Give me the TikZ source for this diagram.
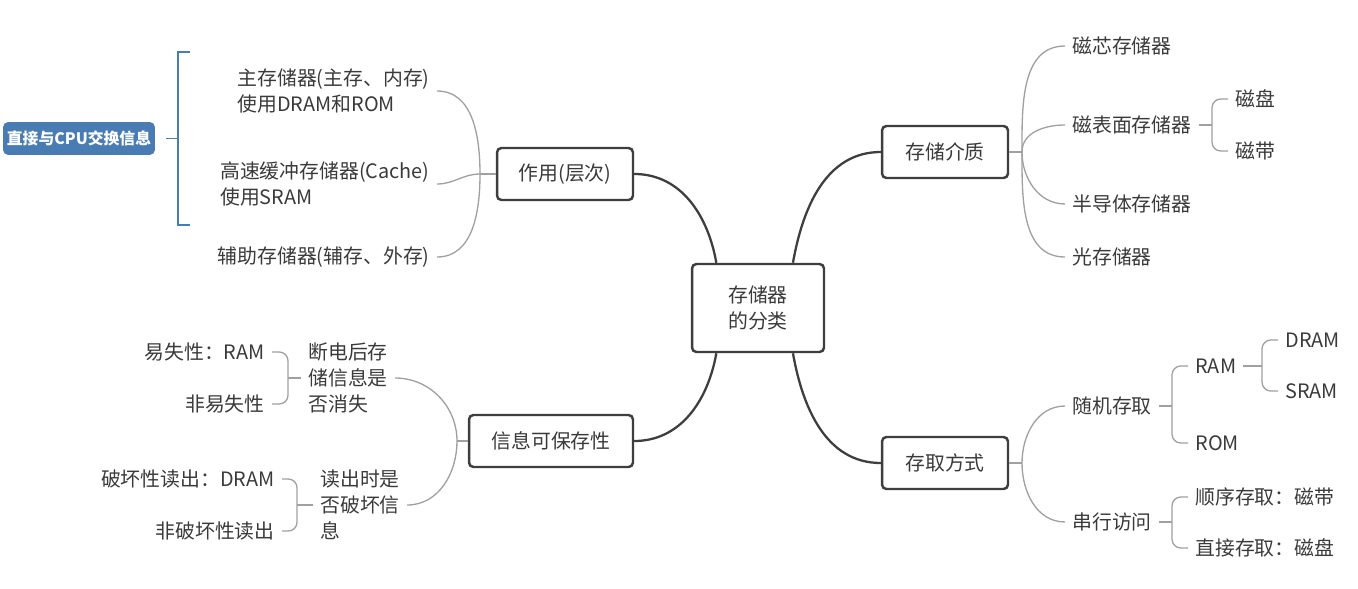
\documentclass[tikz,border=0pt]{standalone}
\usepackage{fontspec}
\setmainfont{Noto Sans CJK SC}
\usepackage{tikz}
\usetikzlibrary{positioning, calc}
\definecolor{InkGray}{RGB}{58,58,58}
\definecolor{EdgeGray}{RGB}{62,62,62}
\definecolor{TwigGray}{RGB}{160,160,160}
\definecolor{TagBlue}{RGB}{74,124,180}

\begin{document}
\begin{tikzpicture}[x=0.02cm, y=0.02cm,
	font=\fontsize{11.3pt}{14.7pt}\selectfont, text=InkGray,
	hub/.style={draw=EdgeGray, line width=1.4pt, rounded corners=2.5pt, fill=white,
		minimum height=1.04cm, inner sep=0pt, align=center},
	leaf/.style={inner sep=4pt, align=left},
	trunk/.style={draw=EdgeGray, line width=1.3pt},
	twig/.style={draw=TwigGray, line width=0.75pt},
	fork/.style={draw=TwigGray, line width=0.75pt, rounded corners=5pt},
	tag/.style={fill=TagBlue, text=white, rounded corners=3pt, minimum width=3.04cm,
		minimum height=0.66cm, inner sep=0pt, font=\fontsize{9pt}{11pt}\selectfont\bfseries},
	summ/.style={draw=TagBlue, line width=1.1pt}]

	\useasboundingbox (0,0) rectangle (1358,-588);

	% main boxes
	\node[hub, minimum width=2.64cm, minimum height=1.76cm] (root) at (758,-308) {存储器\\的分类};
	\node[hub, minimum width=2.72cm] (zy) at (565,-174) {作用(层次)};
	\node[hub, minimum width=3.28cm] (bc) at (551,-441) {信息可保存性};
	\node[hub, minimum width=2.52cm] (jz) at (945,-152) {存储介质};
	\node[hub, minimum width=2.52cm] (cq) at (945,-463) {存取方式};

	\coordinate (rtl) at ($(root.north west)!0.19!(root.north east)$);
	\coordinate (rtr) at ($(root.north west)!0.76!(root.north east)$);
	\coordinate (rbl) at ($(root.south west)!0.19!(root.south east)$);
	\coordinate (rbr) at ($(root.south west)!0.76!(root.south east)$);

	\draw[trunk] (zy.east) to[out=0, in=100] (rtl);
	\draw[trunk] (bc.east) to[out=0, in=-100] (rbl);
	\draw[trunk] (jz.west) to[out=180, in=80] (rtr);
	\draw[trunk] (cq.west) to[out=180, in=-80] (rbr);

	% 作用(层次)
	\node[leaf, anchor=east] (zc) at (437,-91) {主存储器(主存、内存)\\使用DRAM和ROM};
	\node[leaf, anchor=east] (hc) at (437,-184) {高速缓冲存储器(Cache)\\使用SRAM};
	\node[leaf, anchor=east] (fz) at (437,-257) {辅助存储器(辅存、外存)};
	\coordinate (jzy) at (480,-174);
	\draw[twig] (zy.west) -- (jzy);
	\draw[twig] (jzy) to[out=90, in=0] (zc.east);
	\draw[twig] (jzy) to[out=180, in=0] (hc.east);
	\draw[twig] (jzy) to[out=-90, in=0] (fz.east);

	% summary
	\node[tag, outer xsep=6pt] (cpu) at (79,-138.5) {直接与CPU交换信息};
	\coordinate (ks) at (178,-138.5);
	\coordinate (kt) at (190,-52);
	\coordinate (kb) at (190,-225);
	\draw[summ] (kt) -- (kt -| ks) -- (kb -| ks) -- (kb);
	\draw[summ] (ks) -- (cpu.east);

	% 信息可保存性
	\node[leaf, anchor=west] (dd) at (301,-378) {断电后存\\储信息是\\否消失};
	\node[leaf, anchor=west] (dc) at (313,-505) {读出时是\\否破坏信\\息};
	\coordinate (jbc) at (457,-441);
	\draw[twig] (bc.west) -- (jbc);
	\draw[twig] (jbc) to[out=90, in=0] (dd.east);
	\draw[twig] (jbc) to[out=-90, in=0] (dc.east);

	\node[leaf, anchor=east] (ysx) at (272,-352) {易失性：RAM};
	\node[leaf, anchor=east] (fys) at (272,-404) {非易失性};
	\coordinate (jdd) at (288,-378);
	\draw[twig] (dd.west) -- (jdd);
	\draw[fork] (jdd) |- (ysx.east);
	\draw[fork] (jdd) |- (fys.east);

	\node[leaf, anchor=east] (ph) at (282,-479) {破坏性读出：DRAM};
	\node[leaf, anchor=east] (fph) at (282,-531) {非破坏性读出};
	\coordinate (jdc) at (297,-505);
	\draw[twig] (dc.west) -- (jdc);
	\draw[fork] (jdc) |- (ph.east);
	\draw[fork] (jdc) |- (fph.east);

	% 存储介质
	\node[leaf, anchor=west] (cx) at (1065,-46) {磁芯存储器};
	\node[leaf, anchor=west] (cb) at (1065,-125) {磁表面存储器};
	\node[leaf, anchor=west] (bd) at (1065,-204) {半导体存储器};
	\node[leaf, anchor=west] (gc) at (1065,-257) {光存储器};
	\coordinate (jjz) at (1022,-152);
	\draw[twig] (jz.east) -- (jjz);
	\draw[twig] (jjz) to[out=90, in=180] (cx.west);
	\draw[twig] (jjz) to[out=90, in=180] (cb.west);
	\draw[twig] (jjz) to[out=-90, in=180] (bd.west);
	\draw[twig] (jjz) to[out=-90, in=180] (gc.west);

	\node[leaf, anchor=west] (cpan) at (1228,-99) {磁盘};
	\node[leaf, anchor=west] (cdai) at (1228,-151) {磁带};
	\coordinate (jcb) at (1212,-125);
	\draw[twig] (cb.east) -- (jcb);
	\draw[fork] (jcb) |- (cpan.west);
	\draw[fork] (jcb) |- (cdai.west);

	% 存取方式
	\node[leaf, anchor=west] (sj) at (1065,-406) {随机存取};
	\node[leaf, anchor=west] (cxf) at (1065,-522) {串行访问};
	\coordinate (jcq) at (1022,-463);
	\draw[twig] (cq.east) -- (jcq);
	\draw[twig] (jcq) to[out=90, in=180] (sj.west);
	\draw[twig] (jcq) to[out=-90, in=180] (cxf.west);

	\node[leaf, anchor=west] (ram) at (1188,-366) {RAM};
	\node[leaf, anchor=west] (rom) at (1188,-443) {ROM};
	\coordinate (jsj) at (1172,-406);
	\draw[twig] (sj.east) -- (jsj);
	\draw[fork] (jsj) |- (ram.west);
	\draw[fork] (jsj) |- (rom.west);

	\node[leaf, anchor=west] (dram) at (1278,-340) {DRAM};
	\node[leaf, anchor=west] (sram) at (1278,-391) {SRAM};
	\coordinate (jram) at (1262,-366);
	\draw[twig] (ram.east) -- (jram);
	\draw[fork] (jram) |- (dram.west);
	\draw[fork] (jram) |- (sram.west);

	\node[leaf, anchor=west] (sx) at (1188,-497) {顺序存取：磁带};
	\node[leaf, anchor=west] (zjq) at (1188,-548) {直接存取：磁盘};
	\coordinate (jcx) at (1172,-522);
	\draw[twig] (cxf.east) -- (jcx);
	\draw[fork] (jcx) |- (sx.west);
	\draw[fork] (jcx) |- (zjq.west);
\end{tikzpicture}
\end{document}
